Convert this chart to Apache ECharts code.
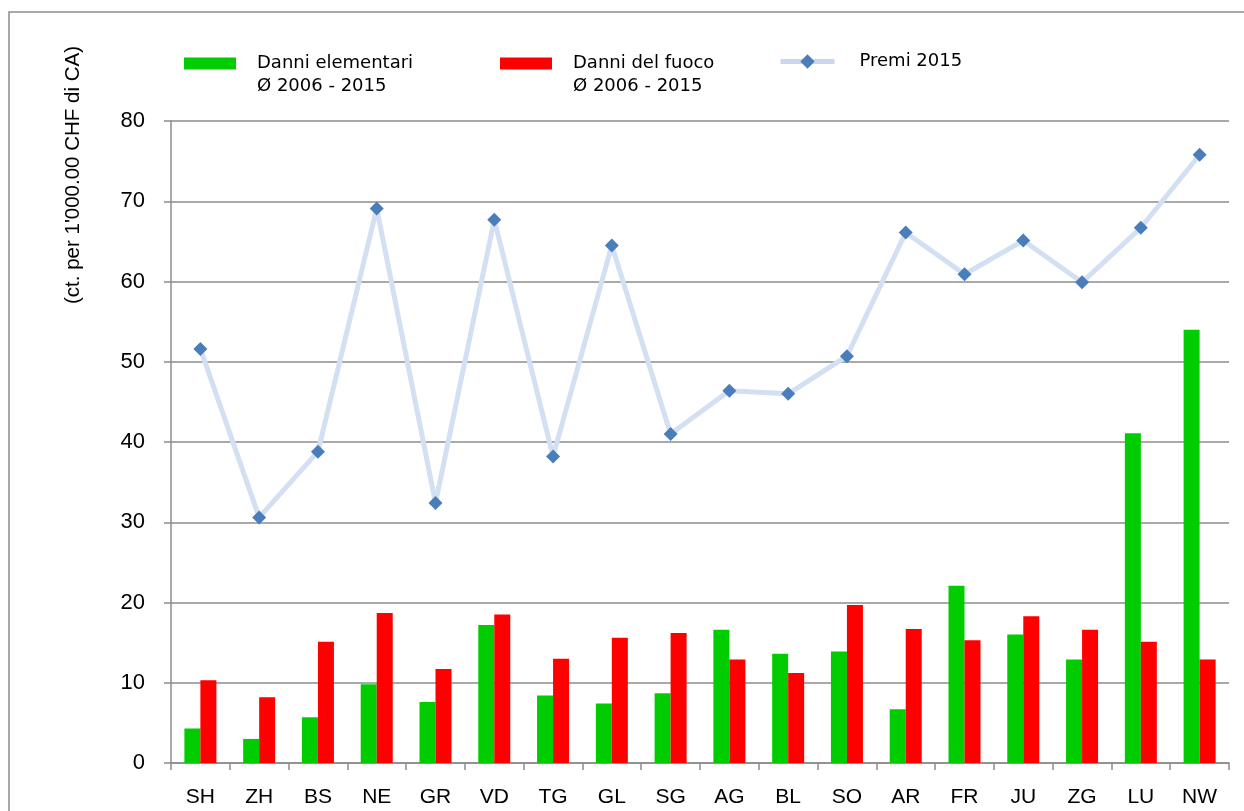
<!DOCTYPE html>
<html>
<head>
<meta charset="utf-8">
<script src="https://cdn.jsdelivr.net/npm/echarts@6/dist/echarts.min.js"></script>
<style>
html,body{margin:0;padding:0;background:#fff;}
#chart{width:1244px;height:811px;}
</style>
</head>
<body>
<div id="chart"></div>
<script>
const categories = ['SH','ZH','BS','NE','GR','VD','TG','GL','SG','AG','BL','SO','AR','FR','JU','ZG','LU','NW'];
const danniElementari = [4.3,3.0,5.7,9.8,7.6,17.2,8.4,7.4,8.7,16.6,13.6,13.9,6.7,22.1,16.0,12.9,41.1,54.0];
const danniFuoco = [10.3,8.2,15.1,18.7,11.7,18.5,13.0,15.6,16.2,12.9,11.2,19.7,16.7,15.3,18.3,16.6,15.1,12.9];
const premi2015 = [51.6,30.6,38.8,69.1,32.4,67.7,38.2,64.5,41.0,46.4,46.0,50.7,66.1,60.9,65.1,59.9,66.7,75.8];
const yTicks = [0,10,20,30,40,50,60,70,80];

const nameE = 'Danni elementari\nØ 2006 - 2015';
const nameF = 'Danni del fuoco\nØ 2006 - 2015';
const nameP = 'Premi 2015';

const chart = echarts.init(document.getElementById('chart'), null, {renderer:'canvas'});
const axisGray = '#8c8c8c';
const legendText = {fontFamily:'DejaVu Sans', fontSize:18, color:'#000', lineHeight:23, padding:[0,0,0,16]};
const legendBase = {top:29, padding:0, itemHeight:12, itemWidth:52, textStyle:legendText, selectedMode:false,
  formatter:function(n){ return n.indexOf('\n') >= 0 ? ' \n' + n : n; }};

chart.setOption({
  animation:false,
  backgroundColor:'#fff',
  graphic:[
    {type:'rect', shape:{x:9, y:12, width:1400, height:1000}, style:{fill:'none', stroke:axisGray, lineWidth:1.5}, silent:true},
    {type:'text', x:73, y:175, rotation:Math.PI/2,
     style:{text:"(ct. per 1'000.00 CHF di CA)", fontFamily:'Liberation Sans', fontSize:20.5, fill:'#000', align:'center', verticalAlign:'middle'}}
  ],
  legend:[
    Object.assign({}, legendBase, {left:184, data:[{name:nameE, icon:'rect'}]}),
    Object.assign({}, legendBase, {left:500, data:[{name:nameF, icon:'rect'}]}),
    Object.assign({}, legendBase, {left:778, top:50, itemWidth:54, itemHeight:18,
      textStyle:Object.assign({}, legendText, {padding:[0,0,0,20]}),
      lineStyle:{width:5, color:'#c9d7ef'},
      data:[{name:nameP}]})
  ],
  grid:{left:171, right:15, top:121, bottom:48, containLabel:false},
  xAxis:{
    type:'category', data:categories, boundaryGap:true,
    axisLine:{lineStyle:{color:axisGray, width:1.5}},
    axisTick:{show:true, alignWithLabel:false, length:7, lineStyle:{color:axisGray, width:1.5}},
    axisLabel:{color:'#000', fontFamily:'Liberation Sans', fontSize:21, margin:24}
  },
  yAxis:{
    type:'value', min:0, max:80, interval:10,
    axisLine:{show:true, lineStyle:{color:axisGray, width:1.5}},
    axisTick:{show:true, inside:false, length:7, lineStyle:{color:axisGray, width:1.5}},
    axisLabel:{color:'#000', fontFamily:'Liberation Sans', fontSize:22, margin:26,
      formatter:function(v){ return yTicks.indexOf(v) >= 0 ? String(v) : ''; }},
    splitLine:{show:true, lineStyle:{color:axisGray, width:1.5}}
  },
  series:[
    {name:nameE, type:'bar', data:danniElementari, barWidth:16, barGap:'0%',
     itemStyle:{color:'#00cc00'}},
    {name:nameF, type:'bar', data:danniFuoco, barWidth:16, barGap:'0%',
     itemStyle:{color:'#ff0000'}},
    {name:nameP, type:'line', data:premi2015, symbol:'diamond', symbolSize:14,
     lineStyle:{color:'#d3dff2', width:5},
     itemStyle:{color:'#4a7ebb', borderWidth:0}, z:5}
  ]
});
</script>
</body>
</html>
